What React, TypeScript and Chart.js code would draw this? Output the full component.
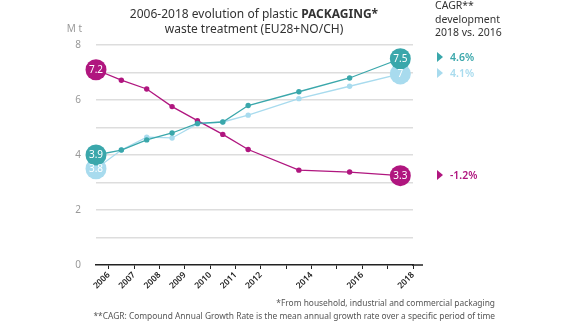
import React, { useEffect, useRef } from "react";
import { Chart, registerables } from "chart.js";

Chart.register(...registerables);

const years = [2006, 2007, 2008, 2009, 2010, 2011, 2012, 2014, 2016, 2018];
const tickYears = [2006, 2007, 2008, 2009, 2010, 2011, 2012, 2013, 2014, 2015, 2016, 2017, 2018];
const labelYears = [2006, 2007, 2008, 2009, 2010, 2011, 2012, 2014, 2016, 2018];

const recyclingValues = [4.0, 4.18, 4.55, 4.8, 5.15, 5.2, 5.8, 6.3, 6.8, 7.5];
const energyValues = [3.5, 4.18, 4.65, 4.62, 5.13, 5.2, 5.45, 6.05, 6.5, 6.95];
const landfillValues = [7.1, 6.72, 6.4, 5.76, 5.25, 4.75, 4.2, 3.45, 3.38, 3.25];

const recyclingEnds = ["3.9", "7.5"];
const energyEnds = ["3.8", "7"];
const landfillEnds = ["7.2", "3.3"];

const yTicks = [0, 1, 2, 3, 4, 5, 6, 7, 8];

const TEAL = "#3aa7ab";
const LIGHT = "#a8dbee";
const MAGENTA = "#b0167f";
const FONT = "'Noto Sans', sans-serif";

const cagr = [
  { text: "4.6%", color: TEAL, top: 57 },
  { text: "4.1%", color: LIGHT, top: 73 },
  { text: "-1.2%", color: MAGENTA, top: 175 },
];

export default function App() {
  const ref = useRef<HTMLCanvasElement>(null);

  useEffect(() => {
    const canvas = ref.current;
    if (!canvas) return;
    const ends = [recyclingEnds, landfillEnds, energyEnds];
    const endLabels = {
      id: "endLabels",
      afterDatasetsDraw(chart: any) {
        const ctx = chart.ctx;
        ctx.save();
        ctx.fillStyle = "#ffffff";
        ctx.font = `10px ${FONT}`;
        ctx.textAlign = "center";
        ctx.textBaseline = "middle";
        chart.data.datasets.forEach((ds: any, i: number) => {
          const meta = chart.getDatasetMeta(i);
          const pts = meta.data;
          const first = pts[0];
          const last = pts[pts.length - 1];
          ctx.fillText(ends[i][0], first.x, first.y + 0.5);
          ctx.fillText(ends[i][1], last.x, last.y + 0.5);
        });
        ctx.restore();
      },
      afterDraw(chart: any) {
        const { ctx, chartArea } = chart;
        ctx.save();
        ctx.strokeStyle = "#222";
        ctx.lineWidth = 1.5;
        ctx.beginPath();
        ctx.moveTo(chartArea.right - 1, chartArea.bottom);
        ctx.lineTo(chartArea.right + 10, chartArea.bottom);
        ctx.stroke();
        ctx.restore();
      },
    };

    const radius = (ctx: any) => {
      const n = ctx.dataset.data.length;
      return ctx.dataIndex === 0 || ctx.dataIndex === n - 1 ? 10.5 : 2.7;
    };

    const mk = (vals: number[], color: string) => ({
      data: years.map((y, i) => ({ x: y, y: vals[i] })),
      borderColor: color,
      backgroundColor: color,
      pointBackgroundColor: color,
      pointBorderWidth: 0,
      pointRadius: radius,
      borderWidth: 1.3,
      tension: 0,
      clip: false,
    });

    const chart = new Chart(canvas, {
      type: "line",
      data: {
        datasets: [mk(recyclingValues, TEAL), mk(landfillValues, MAGENTA), mk(energyValues, LIGHT)],
      },
      options: {
        animation: false,
        responsive: false,
        layout: { padding: { top: 45, right: 170, bottom: 0, left: 0 } },
        plugins: { legend: { display: false }, tooltip: { enabled: false }, title: { display: false } },
        scales: {
          x: {
            type: "linear",
            min: 2006,
            max: 2018.5,
            afterBuildTicks: (s: any) => {
              s.ticks = tickYears.map((y) => ({ value: y + 0.5 }));
            },
            afterFit: (s: any) => {
              s.height = 70;
            },
            ticks: {
              autoSkip: false,
              minRotation: 45,
              maxRotation: 45,
              padding: 1,
              color: "#222",
              font: { family: FONT, size: 8.5, weight: "600" },
              callback: (v: any) => {
                const y = Math.round(Number(v) - 0.5);
                return labelYears.includes(y) ? String(y) : "";
              },
            },
            grid: { drawOnChartArea: false, drawTicks: true, tickLength: 4, color: "#222", lineWidth: 1 },
            border: { display: true, color: "#222", width: 1.5 },
          },
          y: {
            min: 0,
            max: 8,
            afterBuildTicks: (s: any) => {
              s.ticks = yTicks.map((v) => ({ value: v }));
            },
            afterFit: (s: any) => {
              s.width = 96;
            },
            ticks: {
              padding: 15,
              color: "#999",
              font: { family: FONT, size: 10 },
              callback: (v: any) => (Number(v) % 2 === 0 ? String(v) : ""),
            },
            grid: {
              drawTicks: false,
              lineWidth: 1.5,
              color: (c: any) => (c.tick && c.tick.value === 0 ? "rgba(0,0,0,0)" : "#dddddd"),
            },
            border: { display: false },
          },
        },
      },
      plugins: [endLabels],
    } as any);
    return () => chart.destroy();
  }, []);

  const abs = (s: any) => ({ position: "absolute" as const, ...s });

  return (
    <div style={{ position: "fixed", left: 0, top: 0, width: 583, height: 335, background: "#fff", fontFamily: FONT }}>
      <canvas ref={ref} width={583} height={335} style={{ position: "absolute", left: 0, top: 0, width: 583, height: 335 }} />
      <div style={abs({ left: 54, top: 6, width: 400, textAlign: "center", fontSize: 12, lineHeight: "15px", color: "#333" })}>
        <div>
          2006-2018 evolution of plastic <b>PACKAGING*</b>
        </div>
        <div>waste treatment (EU28+NO/CH)</div>
      </div>
      <div style={abs({ left: 64, top: 21, width: 18, fontSize: 10, color: "#999", textAlign: "right", lineHeight: "14px" })}>M t</div>
      <div style={abs({ left: 435, top: -1, fontSize: 10.5, lineHeight: "13.5px", color: "#333" })}>
        <div>CAGR**</div>
        <div>development</div>
        <div>2018 vs. 2016</div>
      </div>
      {cagr.map((c) => (
        <div key={c.text}>
          <div
            style={abs({
              left: 437,
              top: c.top - 5,
              width: 0,
              height: 0,
              borderTop: "5px solid transparent",
              borderBottom: "5px solid transparent",
              borderLeft: `6px solid ${c.color}`,
            })}
          />
          <div style={abs({ left: 450, top: c.top - 8, fontSize: 10.5, lineHeight: "16px", color: c.color, fontWeight: 600 })}>{c.text}</div>
        </div>
      ))}
      <div style={abs({ right: 88, top: 297, fontSize: 8.4, lineHeight: "12.5px", color: "#555", textAlign: "right", whiteSpace: "nowrap" })}>
        <div>*From household, industrial and commercial packaging</div>
        <div>**CAGR: Compound Annual Growth Rate is the mean annual growth rate over a specific period of time</div>
      </div>
    </div>
  );
}
